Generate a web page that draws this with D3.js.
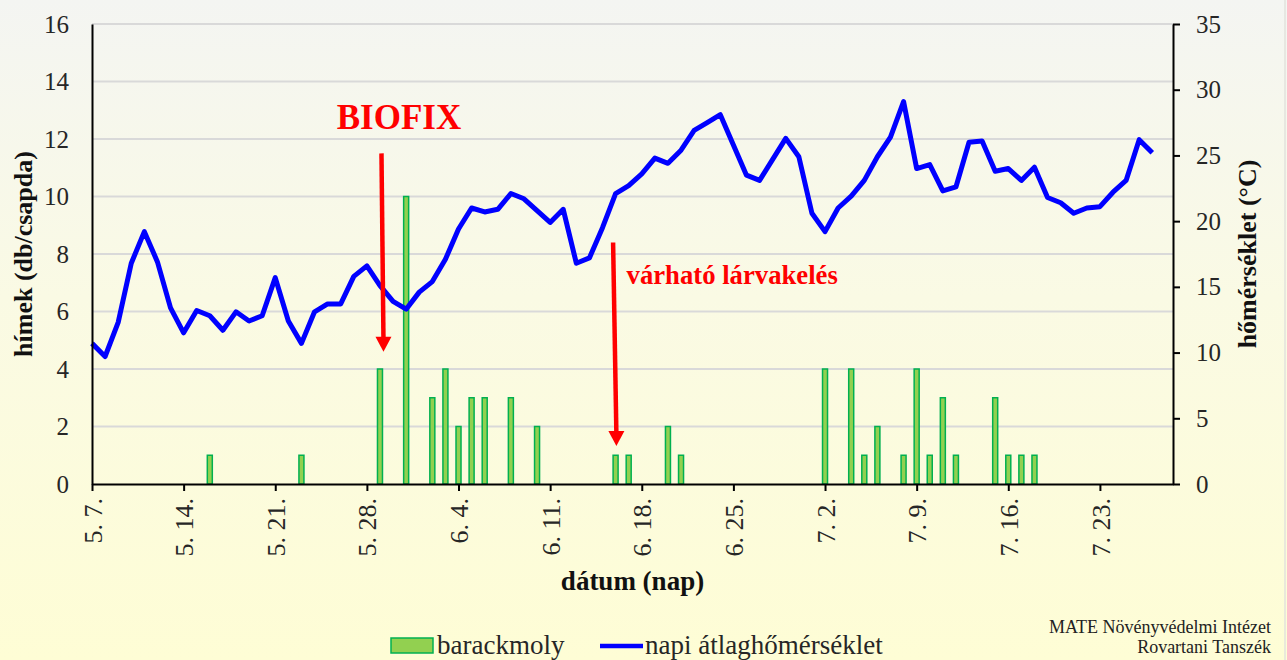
<!DOCTYPE html>
<html>
<head>
<meta charset="utf-8">
<script src="https://cdn.jsdelivr.net/npm/d3@7"></script>
<style>
  html, body { margin: 0; padding: 0; }
  body { width: 1287px; height: 660px; overflow: hidden; }
</style>
</head>
<body>
<svg id="chart" width="1287" height="660"></svg>
<script>
// napi átlaghőmérséklet (°C), 5.7. -tól naponta
const startDay = "2023-05-07";
const temps = [
  10.7, 9.7, 12.3, 16.8, 19.2, 16.9, 13.4, 11.5, 13.2, 12.8,
  11.7, 13.1, 12.4, 12.8, 15.7, 12.4, 10.7, 13.1, 13.7, 13.7,
  15.8, 16.6, 15.1, 13.9, 13.3, 14.6, 15.4, 17.1, 19.4, 21.0,
  20.7, 20.9, 22.1, 21.7, 20.8, 19.9, 20.9, 16.8, 17.2, 19.5,
  22.1, 22.7, 23.6, 24.8, 24.4, 25.4, 26.9, 27.5, 28.1, 25.8,
  23.5, 23.1, 24.7, 26.3, 24.9, 20.6, 19.2, 21.0, 21.9, 23.1,
  24.9, 26.4, 29.1, 24.0, 24.3, 22.3, 22.6, 26.0, 26.1, 23.8,
  24.0, 23.1, 24.1, 21.8, 21.4, 20.6, 21.0, 21.1, 22.2, 23.1,
  26.2, 25.2
];

// barackmoly hímek (db/csapda)
const mothDates = ["05-16", "05-23", "05-29", "05-31", "06-02", "06-03", "06-04", "06-05",
  "06-06", "06-08", "06-10", "06-16", "06-17", "06-20", "06-21", "07-02", "07-04",
  "07-05", "07-06", "07-08", "07-09", "07-10", "07-11", "07-12", "07-15", "07-16",
  "07-17", "07-18"];
const mothCounts = [1, 1, 4, 10, 3, 4, 2, 3,
  3, 3, 2, 1, 1, 2, 1, 4, 4,
  1, 2, 1, 4, 1, 3, 1, 3, 1,
  1, 1];

const leftTicks = [0, 2, 4, 6, 8, 10, 12, 14, 16];
const rightTicks = [0, 5, 10, 15, 20, 25, 30, 35];

const serif = '"Times New Roman", "Liberation Serif", "DejaVu Serif", serif';

const parseDay = d3.timeParse("%Y-%m-%d");
const start = parseDay(startDay);
const tempData = temps.map((t, i) => ({ date: d3.timeDay.offset(start, i), t: t }));
const mothData = mothDates.map((d, i) => ({ date: parseDay("2023-" + d), n: mothCounts[i] }));
const weekTicks = d3.range(0, 78, 7).map(i => d3.timeDay.offset(start, i));

const svg = d3.select("#chart");
const margin = { left: 92, right: 114, top: 24, bottom: 176 };
const W = 1287, H = 660;
const iw = W - margin.left - margin.right;
const ih = H - margin.top - margin.bottom;

// background
const defs = svg.append("defs");
const grad = defs.append("linearGradient").attr("id", "bg").attr("x1", 0).attr("y1", 0).attr("x2", 0).attr("y2", 1);
grad.append("stop").attr("offset", "0%").attr("stop-color", "#f4f5f2");
grad.append("stop").attr("offset", "45%").attr("stop-color", "#fafae4");
grad.append("stop").attr("offset", "100%").attr("stop-color", "#fefdd5");
svg.append("rect").attr("width", W).attr("height", H).attr("fill", "url(#bg)");
svg.append("line").attr("x1", 1285).attr("x2", 1285).attr("y1", 0).attr("y2", H)
  .attr("stroke", "#e2e2dc").attr("stroke-width", 1.5);

const g = svg.append("g").attr("transform", `translate(${margin.left},${margin.top})`);

const x = d3.scaleTime()
  .domain([start, d3.timeHour.offset(start, Math.round(82.6 * 24))])
  .range([0, iw]);
const yL = d3.scaleLinear().domain([0, 16]).range([ih, 0]);
const yR = d3.scaleLinear().domain([0, 35]).range([ih, 0]);

// grid
g.append("g").selectAll("line").data(leftTicks.slice(1)).join("line")
  .attr("x1", 0).attr("x2", iw)
  .attr("y1", d => yL(d)).attr("y2", d => yL(d))
  .attr("stroke", "#d9d9d9").attr("stroke-width", 2);

// bars
const barW = 5;
g.append("g").selectAll("rect").data(mothData).join("rect")
  .attr("x", d => x(d.date) - barW / 2)
  .attr("y", d => yL(d.n))
  .attr("width", barW)
  .attr("height", d => yL(0) - yL(d.n))
  .attr("fill", "#92d050")
  .attr("stroke", "#00b050")
  .attr("stroke-width", 1.5);

// temperature line
const line = d3.line().x(d => x(d.date)).y(d => yR(d.t));
g.append("path").datum(tempData)
  .attr("d", line)
  .attr("fill", "none")
  .attr("stroke", "#0000ff")
  .attr("stroke-width", 5)
  .attr("stroke-linejoin", "round");

// axes
const axL = g.append("g").call(d3.axisLeft(yL).tickValues(leftTicks).tickSize(0).tickPadding(23));
axL.select(".domain").attr("stroke", "#000").attr("stroke-width", 2);
axL.selectAll("text").attr("font-size", 25).attr("fill", "#262626");

const axR = g.append("g").attr("transform", `translate(${iw},0)`)
  .call(d3.axisRight(yR).tickValues(rightTicks).tickSize(7).tickSizeOuter(0).tickPadding(16));
axR.select(".domain").attr("stroke", "#000").attr("stroke-width", 2);
axR.selectAll(".tick line").attr("stroke", "#000").attr("stroke-width", 2);
axR.selectAll("text").attr("font-size", 25).attr("fill", "#262626");

const axB = g.append("g").attr("transform", `translate(0,${ih})`)
  .call(d3.axisBottom(x).tickValues(weekTicks).tickSize(7).tickSizeOuter(0)
    .tickFormat(d => `${d.getMonth() + 1}. ${d.getDate()}.`));
axB.select(".domain").attr("stroke", "#000").attr("stroke-width", 2);
axB.selectAll(".tick line").attr("stroke", "#000").attr("stroke-width", 2);
axB.selectAll("text")
  .attr("font-size", 26).attr("fill", "#262626")
  .attr("transform", "rotate(-90)")
  .attr("text-anchor", "end")
  .attr("x", -14).attr("y", 0).attr("dy", "0.35em");

// axis titles
g.append("text")
  .attr("transform", `translate(-60,${ih / 2}) rotate(-90)`)
  .attr("text-anchor", "middle").attr("font-size", 26).attr("font-weight", "bold").attr("fill", "#111")
  .text("hímek (db/csapda)");
g.append("text")
  .attr("transform", `translate(${iw + 83},${ih / 2}) rotate(-90)`)
  .attr("text-anchor", "middle").attr("font-size", 26).attr("font-weight", "bold").attr("fill", "#111")
  .text("hőmérséklet (°C)");
g.append("text")
  .attr("x", iw / 2).attr("y", ih + 106)
  .attr("text-anchor", "middle").attr("font-size", 27).attr("font-weight", "bold").attr("fill", "#111")
  .text("dátum (nap)");

// annotations
function arrow(date, yTop, yTip, dxTop, dxTip) {
  const ax = x(date);
  g.append("line")
    .attr("x1", ax + dxTop).attr("x2", ax + dxTip)
    .attr("y1", yL(yTop)).attr("y2", yL(yTip) - 12)
    .attr("stroke", "#ff0000").attr("stroke-width", 4.5);
  g.append("path")
    .attr("d", `M${ax + dxTip - 8},${yL(yTip) - 15} L${ax + dxTip + 8},${yL(yTip) - 15} L${ax + dxTip},${yL(yTip)} Z`)
    .attr("fill", "#ff0000");
}
const biofixDate = parseDay("2023-05-29");
const larvaDate = parseDay("2023-06-16");
arrow(biofixDate, 11.5, 4.6, 1.5, 3.5);
arrow(larvaDate, 8.4, 1.32, -2.5, 0.8);

g.append("text")
  .attr("x", x(biofixDate) + 19).attr("y", yL(12.4) + 1)
  .attr("text-anchor", "middle").attr("font-size", 35).attr("font-weight", "bold").attr("fill", "#ff0000")
  .text("BIOFIX");
g.append("text")
  .attr("x", x(larvaDate) + 11).attr("y", yL(6.96))
  .attr("font-size", 26.7).attr("font-weight", "bold").attr("fill", "#ff0000")
  .text("várható lárvakelés");

// legend
const leg = svg.append("g");
leg.append("rect").attr("x", 391).attr("y", 638).attr("width", 42).attr("height", 15)
  .attr("fill", "#92d050").attr("stroke", "#00b050").attr("stroke-width", 1.5);
leg.append("text").attr("x", 437).attr("y", 654).attr("font-size", 27).attr("fill", "#262626").text("barackmoly");
leg.append("line").attr("x1", 600).attr("x2", 643).attr("y1", 646).attr("y2", 646)
  .attr("stroke", "#0000ff").attr("stroke-width", 4.5);
leg.append("text").attr("x", 645).attr("y", 654).attr("font-size", 27).attr("fill", "#262626").text("napi átlaghőmérséklet");

// credits
svg.append("text").attr("x", 1271).attr("y", 633).attr("text-anchor", "end")
  .attr("font-size", 18).attr("fill", "#222").text("MATE Növényvédelmi Intézet");
svg.append("text").attr("x", 1271).attr("y", 653).attr("text-anchor", "end")
  .attr("font-size", 18).attr("fill", "#222").text("Rovartani Tanszék");

svg.selectAll("text").style("font-family", serif);
</script>
</body>
</html>
